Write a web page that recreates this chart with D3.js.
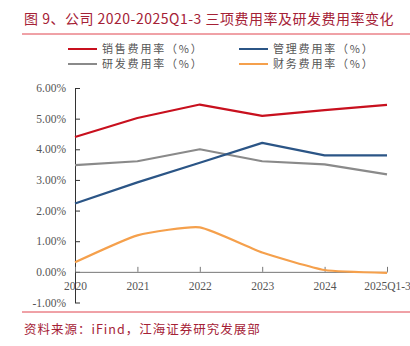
<!DOCTYPE html>
<html>
<head>
<meta charset="utf-8">
<script src="https://cdn.jsdelivr.net/npm/d3@7"></script>
<style>
  body { margin: 0; background: #fff; }
  svg { display: block; }
</style>
</head>
<body>
<div id="chart"></div>
<script>
const years = ["2020", "2021", "2022", "2023", "2024", "2025Q1-3"];
const sales = [4.40, 5.02, 5.46, 5.09, 5.28, 5.45];
const admin = [2.23, 2.92, 3.56, 4.21, 3.80, 3.80];
const rnd = [3.48, 3.61, 4.00, 3.61, 3.51, 3.18];
const fin = [0.31, 1.19, 1.45, 0.63, 0.06, -0.03];
const yTicks = [-1, 0, 1, 2, 3, 4, 5, 6];

const series = [
  { name: "销售费用率（%）", values: sales, color: "#C8101E", smooth: false },
  { name: "管理费用率（%）", values: admin, color: "#2B5586", smooth: false },
  { name: "研发费用率（%）", values: rnd, color: "#8A8A8A", smooth: false },
  { name: "财务费用率（%）", values: fin, color: "#F5A04C", smooth: true }
];

const W = 410, H = 346;
const svg = d3.select("#chart").append("svg")
    .attr("width", W)
    .attr("height", H);

const titleColor = "#A52136";
const ruleColor = "#E0454F";
const serif = "'Liberation Serif', 'Noto Sans CJK SC', serif";
const cjk = "'Noto Sans CJK SC', sans-serif";

// title
svg.append("text")
    .attr("x", 24).attr("y", 24)
    .style("font-family", cjk)
    .style("font-size", "14px")
    .style("letter-spacing", "0.5px")
    .style("fill", titleColor)
    .text("图 9、公司 2020-2025Q1-3 三项费用率及研发费用率变化");
svg.append("line")
    .attr("x1", 22).attr("x2", W).attr("y1", 34).attr("y2", 34)
    .style("stroke", ruleColor).style("stroke-width", 1);

// legend
const legendPos = [[68, 49], [239, 49], [68, 64], [239, 64]];
const leg = svg.append("g").selectAll("g")
    .data([series[0], series[1], series[2], series[3]])
  .enter().append("g")
    .attr("transform", (d, i) => "translate(" + legendPos[i] + ")");
leg.append("line")
    .attr("x1", 0).attr("x2", 29)
    .style("stroke", d => d.color).style("stroke-width", 2);
leg.append("text")
    .attr("x", 34).attr("y", 4)
    .style("font-family", cjk)
    .style("font-size", "11px")
    .style("letter-spacing", "1.8px")
    .style("fill", "#555")
    .text(d => d.name);

// scales
const x = d3.scalePoint().domain(years).range([75, 387]);
const y = d3.scaleLinear().domain([-1, 6]).range([302.5, 88]);

// y axis
const yAxis = d3.axisLeft(y)
    .tickValues(yTicks)
    .tickFormat(d => d.toFixed(2) + "%")
    .tickSizeInner(-5)
    .tickSizeOuter(0)
    .tickPadding(9);
const gy = svg.append("g")
    .attr("transform", "translate(75,0)")
    .call(yAxis);
gy.select(".domain").style("stroke", "#333");
gy.selectAll(".tick line").style("stroke", "#333");
gy.selectAll("text")
    .style("font-family", serif)
    .style("font-size", "11.5px")
    .style("fill", "#555");

// x axis at zero
const xAxis = d3.axisBottom(x)
    .tickSizeInner(-5)
    .tickSizeOuter(0)
    .tickPadding(10);
const gx = svg.append("g")
    .attr("transform", "translate(0," + y(0) + ")")
    .call(xAxis);
gx.select(".domain").style("stroke", "#777");
gx.selectAll(".tick line").style("stroke", "#777");
gx.selectAll("text")
    .style("font-family", serif)
    .style("font-size", "11.5px")
    .style("fill", "#555");

// lines
const lineStraight = d3.line()
    .x((d, i) => x(years[i]))
    .y(d => y(d));
const lineSmooth = d3.line()
    .x((d, i) => x(years[i]))
    .y(d => y(d))
    .curve(d3.curveCardinal.tension(0.5));

svg.append("g").selectAll("path")
    .data([series[3], series[2], series[1], series[0]])
  .enter().append("path")
    .attr("d", d => (d.smooth ? lineSmooth : lineStraight)(d.values))
    .style("fill", "none")
    .style("stroke", d => d.color)
    .style("stroke-width", 2.2)
    .style("stroke-linejoin", "round");

// footer
svg.append("line")
    .attr("x1", 22).attr("x2", W).attr("y1", 312).attr("y2", 312)
    .style("stroke", ruleColor).style("stroke-width", 1);
svg.append("text")
    .attr("x", 24).attr("y", 334)
    .style("font-family", cjk)
    .style("font-size", "12.5px")
    .style("letter-spacing", "1px")
    .style("fill", titleColor)
    .text("资料来源：iFind，江海证券研究发展部");
</script>
</body>
</html>
